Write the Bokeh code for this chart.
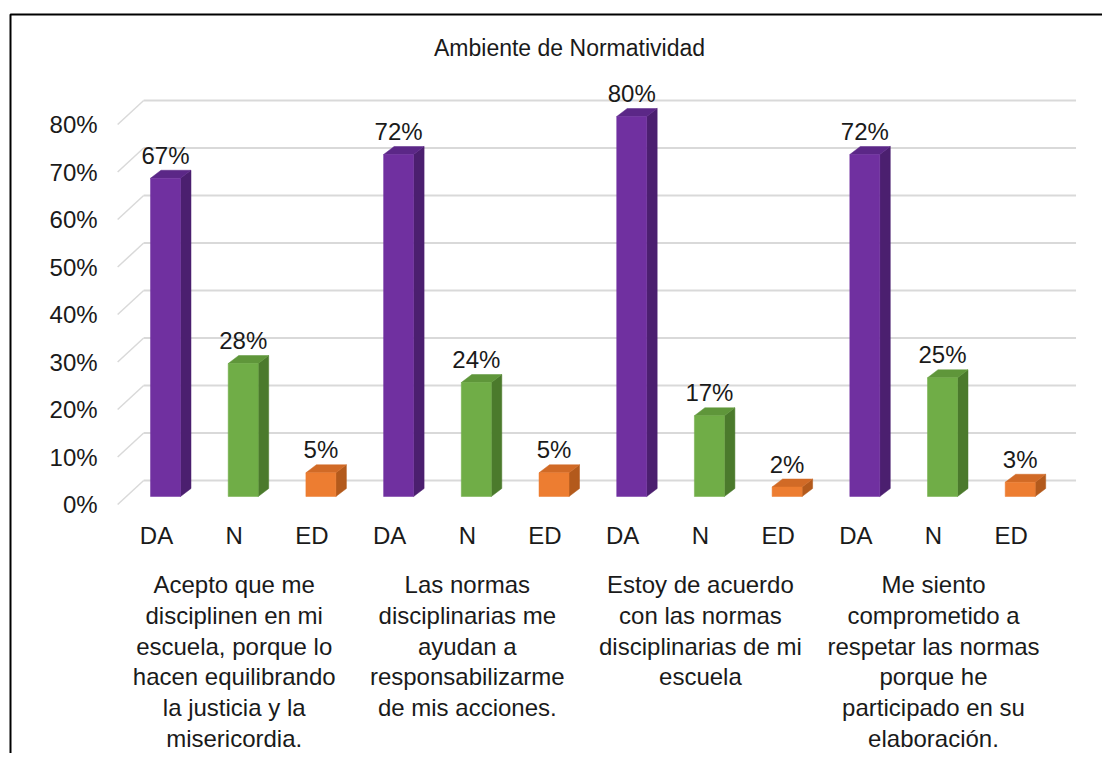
from bokeh.plotting import figure
from bokeh.models import Range1d, ColumnDataSource
from bokeh.core.properties import value
from bokeh.embed import file_html
from bokeh.resources import INLINE

# ---------------- data ----------------
title = "Ambiente de Normatividad"
groups = [
    "Acepto que me\ndisciplinen en mi\nescuela, porque lo\nhacen equilibrando\nla justicia y la\nmisericordia.",
    "Las normas\ndisciplinarias me\nayudan a\nresponsabilizarme\nde mis acciones.",
    "Estoy de acuerdo\ncon las normas\ndisciplinarias de mi\nescuela",
    "Me siento\ncomprometido a\nrespetar las normas\nporque he\nparticipado en su\nelaboración.",
]
categories = ["DA", "N", "ED"]
DA = [67, 72, 80, 72]
N = [28, 24, 17, 25]
ED = [5, 5, 2, 3]
y_ticks = [0, 10, 20, 30, 40, 50, 60, 70, 80]
y_tick_labels = ["0%", "10%", "20%", "30%", "40%", "50%", "60%", "70%", "80%"]

# ---------------- style ----------------
W, H = 1102, 753
SLOT_PX = 77.7      # px per category slot
UNIT_PX = 4.75      # px per percentage point
PX = 1.0 / SLOT_PX
PY = 1.0 / UNIT_PX
FONT = value("Liberation Sans")
FS = value("24px")
TXT = "#1a1a1a"
GRID = "#d9d9d9"

front_cols = {"DA": "#7030a0", "N": "#70ad47", "ED": "#ed7d31"}
side_cols = {"DA": "#4b1f6f", "N": "#4b7a2c", "ED": "#b35a1c"}
top_cols = {"DA": "#5b2787", "N": "#5f963a", "ED": "#d16a26"}

bar_w = 30 * PX
depth_dx, depth_dy = 10.5 * PX, 8 * PY       # bar depth
wall_dx, wall_dy = 17 * PX, 16 * PY          # back wall vs bar front plane
floor_dx, floor_dy = -9 * PX, -8 * PY        # floor front vs bar front plane

ORX, ORY = 165, 496   # pixel position of first bar centre / zero line
x0 = (0 - ORX) / SLOT_PX
x1 = (W - ORX) / SLOT_PX
y1 = (ORY - 0) / UNIT_PX
y0 = (ORY - H) / UNIT_PX

p = figure(width=W, height=H, output_backend="svg", toolbar_location=None,
           x_range=Range1d(x0, x1), y_range=Range1d(y0, y1),
           min_border=0, outline_line_color=None)
p.xaxis.visible = False
p.yaxis.visible = False
p.grid.visible = False
p.background_fill_color = "white"
p.border_fill_color = "white"

# ---------------- border (top + left) ----------------
bx = x0 + 10 * PX
by = y1 - 14 * PY
p.line([x1 + 1, bx, bx], [by, by, y0 - 1], line_color="black", line_width=2)

# ---------------- grid (back wall + left diagonals) ----------------
n_slots = len(groups) * len(categories)
left_edge = -0.5
right_edge = n_slots - 0.5
for v in y_ticks:
    p.line([left_edge + wall_dx, right_edge + wall_dx], [v + wall_dy, v + wall_dy],
           line_color=GRID, line_width=2)
    p.line([left_edge + wall_dx, left_edge + floor_dx], [v + wall_dy, v + floor_dy],
           line_color=GRID, line_width=1.5)

# tick labels
p.text(x=[left_edge + floor_dx - 20 * PX] * len(y_ticks),
       y=[v + floor_dy for v in y_ticks], text=y_tick_labels,
       text_font=FONT, text_font_size=FS, text_color=TXT,
       text_align="right", text_baseline="middle")

# ---------------- bars ----------------
series = {"DA": DA, "N": N, "ED": ED}
for ci, cat in enumerate(categories):
    xs = [gi * len(categories) + ci for gi in range(len(groups))]
    vals = series[cat]
    side_x, side_y, top_x, top_y = [], [], [], []
    for x, v in zip(xs, vals):
        r = x + bar_w / 2
        l = x - bar_w / 2
        side_x.append([r, r + depth_dx, r + depth_dx, r])
        side_y.append([0, depth_dy, v + depth_dy, v])
        top_x.append([l, r, r + depth_dx, l + depth_dx])
        top_y.append([v, v, v + depth_dy, v + depth_dy])
    p.patches(side_x, side_y, fill_color=side_cols[cat], line_color=side_cols[cat], line_width=0.5)
    p.patches(top_x, top_y, fill_color=top_cols[cat], line_color=top_cols[cat], line_width=0.5)
    src = ColumnDataSource(dict(x=xs, top=vals,
                                lbl=[f"{v}%" for v in vals],
                                ly=[v + 23 * PY for v in vals]))
    p.vbar(x="x", top="top", bottom=0, width=bar_w, source=src,
           fill_color=front_cols[cat], line_color=front_cols[cat], line_width=0.5)
    p.text(x="x", y="ly", text="lbl", source=src,
           text_font=FONT, text_font_size=FS, text_color=TXT,
           text_align="center", text_baseline="middle")
    # category labels
    p.text(x=[x + floor_dx for x in xs], y=[(ORY - 535) * PY] * len(xs),
           text=[cat] * len(xs), text_font=FONT, text_font_size=FS, text_color=TXT,
           text_align="center", text_baseline="middle")

# ---------------- group labels ----------------
line_step = 30.8 * PY
first_line = (ORY - 584) * PY
for gi, g in enumerate(groups):
    cx = gi * len(categories) + 1 + floor_dx
    lines = g.split("\n")
    p.text(x=[cx] * len(lines), y=[first_line - k * line_step for k in range(len(lines))],
           text=lines, text_font=FONT, text_font_size=FS, text_color=TXT,
           text_align="center", text_baseline="middle")

# ---------------- title ----------------
p.text(x=[(569 - ORX) * PX], y=[(ORY - 47) * PY], text=[title],
       text_font=FONT, text_font_size=value("23px"), text_color=TXT,
       text_align="center", text_baseline="middle")

open("out.html", "w").write(file_html(p, INLINE))
